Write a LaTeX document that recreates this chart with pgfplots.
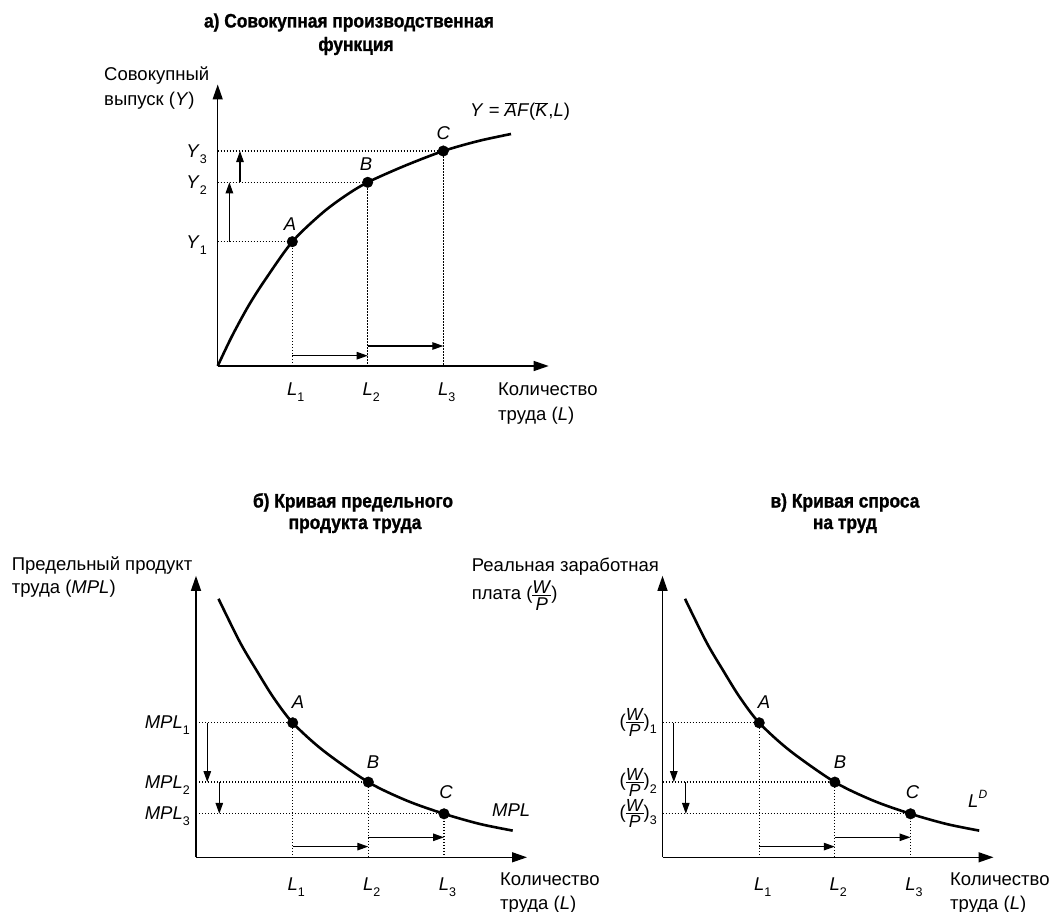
\documentclass[border=0pt]{standalone}
\usepackage{fontspec}
\setmainfont{Liberation Sans}
\newfontfamily\titlefont{Liberation Sans}[FakeStretch=0.89, BoldFeatures={FakeBold=1.2}]
\usepackage{pgfplots}
\usepackage{pgfplotstable}
\pgfplotsset{compat=1.18}
\usetikzlibrary{arrows.meta}

% curve readings, in px from each panel's origin
\pgfplotstableread{
L Y
0 0
14 29.3
30.7 60
47.3 86
74.6 124.3
104 152.5
127.3 170
150 183.7
187.3 200.3
225.6 215
260.7 225
293.3 232
}\prodcurve

\pgfplotstableread{
L MPL
22.5 258.5
44 215
60.7 186.7
77.3 160
96.7 134.5
127.3 106.7
172.3 75.2
210.7 56.7
248 43.5
284 33.3
316.7 26.7
}\mplcurve

\newcommand\sub[1]{\raisebox{-6pt}{\fontsize{12.5}{12}\selectfont #1}}
\newcommand\subw[1]{\raisebox{-6.5pt}{\fontsize{12.5}{12}\selectfont #1}}
\newcommand\sups[1]{\raisebox{9pt}{\fontsize{12}{12}\selectfont\textit{#1}}}
\newcommand\WP{\ensuremath{\vcenter{\offinterlineskip\halign{\hfil##\hfil\cr
  \textit{W}\cr\noalign{\kern1.7pt\hrule height0.9pt\kern1.7pt}\textit{P}\cr}}}}
\newcommand\WPs{{\fontsize{17.5}{20}\selectfont\WP}}
\newcommand\ttl{\titlefont\bfseries\fontsize{19.5}{22}\selectfont}

\pgfplotsset{
  every non boxed x axis/.style={},
  every non boxed y axis/.style={},
  panel/.style={
    x=1pt, y=1pt, xmin=0, xmax=331, ymin=0, ymax=281.5,
    axis lines=left, enlargelimits=false, clip=false,
    axis line style={line width=1.4pt, -{Triangle[length=15pt,width=10pt]}},
    xtick=\empty, ytick=\empty, anchor=origin},
  guide/.style={line width=1.3pt, dash pattern=on 1.3pt off 1.7pt},
  shift/.style={line width=1.2pt, -{Triangle[length=11pt,width=7.5pt]}},
  curve/.style={line width=2.6pt, smooth},
  dots/.style={only marks, mark=*, mark size=5.3pt},
}

\begin{document}
\begin{tikzpicture}
\useasboundingbox (0pt,0pt) rectangle (1054pt,-912pt);

% а) production function
\begin{axis}[panel, at={(217.7pt,-366pt)}]
  \addplot[guide] coordinates {(0,124.3) (74.6,124.3) (74.6,0)};
  \addplot[guide] coordinates {(0,183.7) (150,183.7) (150,0)};
  \addplot[guide] coordinates {(0,215) (225.6,215) (225.6,0)};
  \addplot[curve] table[x=L,y=Y] {\prodcurve};
  \addplot[dots] coordinates {(74.6,124.3) (150,183.7) (225.6,215)};
  \addplot[shift] coordinates {(11.7,124.3) (11.7,183.7)};
  \addplot[shift] coordinates {(22.3,183.7) (22.3,215)};
  \addplot[shift] coordinates {(74.6,10.3) (150,10.3)};
  \addplot[shift] coordinates {(150,20) (225.6,20)};
\end{axis}

% б) marginal product of labour
\begin{axis}[panel, at={(196pt,-857.3pt)}]
  \addplot[guide] coordinates {(0,134.5) (96.7,134.5) (96.7,0)};
  \addplot[guide] coordinates {(0,75.2) (172.3,75.2) (172.3,0)};
  \addplot[guide] coordinates {(0,43.5) (248,43.5) (248,0)};
  \addplot[curve] table[x=L,y=MPL] {\mplcurve};
  \addplot[dots] coordinates {(96.7,134.5) (172.3,75.2) (248,43.5)};
  \addplot[shift] coordinates {(11.3,134.5) (11.3,75.2)};
  \addplot[shift] coordinates {(23.3,75.2) (23.3,43.5)};
  \addplot[shift] coordinates {(96.7,10.7) (172.3,10.7)};
  \addplot[shift] coordinates {(172.3,20) (248,20)};
\end{axis}

% в) labour demand
\begin{axis}[panel, at={(662.5pt,-857.3pt)}]
  \addplot[guide] coordinates {(0,134.5) (96.7,134.5) (96.7,0)};
  \addplot[guide] coordinates {(0,75.2) (172.3,75.2) (172.3,0)};
  \addplot[guide] coordinates {(0,43.5) (248,43.5) (248,0)};
  \addplot[curve] table[x=L,y=MPL] {\mplcurve};
  \addplot[dots] coordinates {(96.7,134.5) (172.3,75.2) (248,43.5)};
  \addplot[shift] coordinates {(11.3,134.5) (11.3,75.2)};
  \addplot[shift] coordinates {(23.3,75.2) (23.3,43.5)};
  \addplot[shift] coordinates {(96.7,10.7) (172.3,10.7)};
  \addplot[shift] coordinates {(172.3,20) (248,20)};
\end{axis}

\begin{scope}[x=1pt, y=-1pt, every node/.style={font=\fontsize{18.5}{22}\selectfont, inner sep=0pt}]
  % top panel texts
  \node[anchor=base, font=\ttl] at (349,27.5) {а) Совокупная производственная};
  \node[anchor=base, font=\ttl] at (356,51) {функция};
  \node[anchor=base west] at (104,81) {Совокупный};
  \node[anchor=base west] at (104,106) {выпуск (\textit{Y})};
  \node[anchor=base east] at (207,248.2) {\textit{Y}\sub{1}};
  \node[anchor=base east] at (207,188.8) {\textit{Y}\sub{2}};
  \node[anchor=base east] at (207,157.2) {\textit{Y}\sub{3}};
  \node[anchor=base] at (295.8,395) {\textit{L}\sub{1}};
  \node[anchor=base] at (371.2,395) {\textit{L}\sub{2}};
  \node[anchor=base] at (446.8,395) {\textit{L}\sub{3}};
  \node at (290,224) {\textit{A}};
  \node at (366,164.3) {\textit{B}};
  \node at (443.3,133.3) {\textit{C}};
  \node[anchor=base west] at (470,117) {\textit{Y} = $\overline{\mbox{\textit{A}}}$\textit{F}($\overline{\mbox{\textit{K}}}$,\textit{L})};
  \node[anchor=base west] at (498,395) {Количество};
  \node[anchor=base west] at (498,420) {труда (\textit{L})};

  % bottom left texts
  \node[anchor=base, font=\ttl] at (353,507.5) {б) Кривая предельного};
  \node[anchor=base, font=\ttl] at (355,529) {продукта труда};
  \node[anchor=base west] at (11.7,570) {Предельный продукт};
  \node[anchor=base west] at (11.7,593) {труда (\textit{MPL})};
  \node[anchor=base east] at (190,728.8) {\textit{MPL}\sub{1}};
  \node[anchor=base east] at (190,788.2) {\textit{MPL}\sub{2}};
  \node[anchor=base east] at (190,819.8) {\textit{MPL}\sub{3}};
  \node[anchor=base] at (296.2,890) {\textit{L}\sub{1}};
  \node[anchor=base] at (371.8,890) {\textit{L}\sub{2}};
  \node[anchor=base] at (447.5,890) {\textit{L}\sub{3}};
  \node at (298,701.7) {\textit{A}};
  \node at (373,761.7) {\textit{B}};
  \node at (446,792) {\textit{C}};
  \node[anchor=base west] at (492,816) {\textit{MPL}};
  \node[anchor=base west] at (500,885.5) {Количество};
  \node[anchor=base west] at (500,909.5) {труда (\textit{L})};

  % bottom right texts
  \node[anchor=base, font=\ttl] at (845,507.5) {в) Кривая спроса};
  \node[anchor=base, font=\ttl] at (845,529) {на труд};
  \node[anchor=base west] at (471.7,571.5) {Реальная заработная};
  \node[anchor=base west] at (471.7,599.5) {плата (\WP)};
  \node[anchor=base east] at (657,727) {(\WPs)\subw{1}};
  \node[anchor=base east] at (657,786.5) {(\WPs)\subw{2}};
  \node[anchor=base east] at (657,818) {(\WPs)\subw{3}};
  \node[anchor=base] at (762.7,890) {\textit{L}\sub{1}};
  \node[anchor=base] at (838.3,890) {\textit{L}\sub{2}};
  \node[anchor=base] at (914,890) {\textit{L}\sub{3}};
  \node at (764,701.7) {\textit{A}};
  \node at (840,761.7) {\textit{B}};
  \node at (912.5,792) {\textit{C}};
  \node[anchor=base west] at (968,807) {\textit{L}\sups{D}};
  \node[anchor=base west] at (950,885.5) {Количество};
  \node[anchor=base west] at (950,909.5) {труда (\textit{L})};
\end{scope}
\end{tikzpicture}
\end{document}
